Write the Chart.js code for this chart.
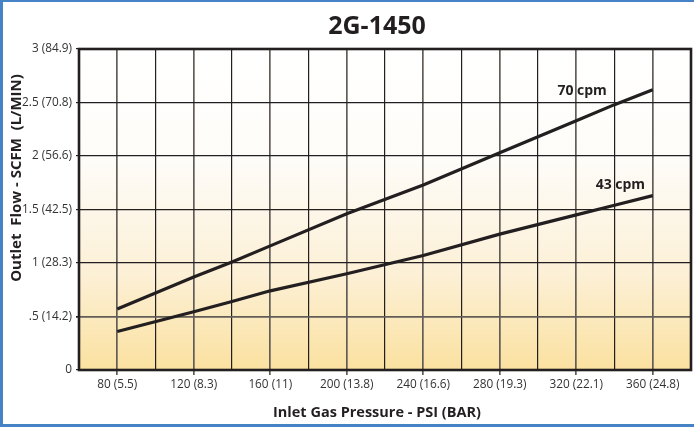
<!DOCTYPE html>
<html lang="en">
<head>
    <meta charset="UTF-8">
    <title>2G-1450</title>
    <style>
        body { margin: 0; background: #fff; }
        canvas { display: block; }
    </style>
</head>
<body>
    <canvas id="myChart" width="694" height="427"></canvas>
    <script src="https://cdn.jsdelivr.net/npm/chart.js"></script>
<script>
    // values
    const pressurePsi = [80, 120, 140, 160, 200, 240, 280, 320, 340, 360]
    const flow70cpm = [0.57, 0.87, 1.01, 1.16, 1.46, 1.73, 2.03, 2.33, 2.48, 2.62]
    const flow43cpm = [0.36, 0.545, 0.64, 0.74, 0.90, 1.07, 1.27, 1.45, 1.54, 1.63]

    const xTickValues = [80, 120, 160, 200, 240, 280, 320, 360]
    const xTickLabels = ['80 (5.5)', '120 (8.3)', '160 (11)', '200 (13.8)', '240 (16.6)', '280 (19.3)', '320 (22.1)', '360 (24.8)']
    const yTickValues = [0, 0.5, 1, 1.5, 2, 2.5, 3]
    const yTickLabels = ['0', '.5 (14.2)', '1 (28.3)', '1.5 (42.5)', '2 (56.6)', '2.5 (70.8)', '3 (84.9)']

    const ink = '#231f20'
    const greyLine = '#625d58'
    const font = "'Open Sans', sans-serif"

    function points(ys) {
        return pressurePsi.map((p, i) => ({ x: p, y: ys[i] }))
    }

    const decor = {
        id: 'decor',
        beforeDraw(chart) {
            const c = chart.ctx, a = chart.chartArea
            c.save()
            // blue frame of the picture
            c.fillStyle = '#4683c6'
            c.fillRect(0, 0, chart.width, 2)
            c.fillRect(0, 0, 3, chart.height)
            c.fillRect(0, chart.height - 3, chart.width, 3)
            // plot background
            const g = c.createLinearGradient(0, a.top, 0, a.bottom)
            g.addColorStop(0, '#ffffff')
            g.addColorStop(0.35, '#fefcf8')
            g.addColorStop(0.7, '#fcf0d6')
            g.addColorStop(1, '#fbe1a0')
            c.fillStyle = g
            c.fillRect(a.left, a.top, a.right - a.left, a.bottom - a.top)
            c.restore()
        },
        afterDatasetsDraw(chart) {
            const c = chart.ctx, a = chart.chartArea
            c.save()
            c.strokeStyle = ink
            c.lineWidth = 2.6
            c.strokeRect(a.left, a.top, a.right - a.left, a.bottom - a.top)
            c.restore()
        },
        afterDraw(chart) {
            const c = chart.ctx
            const xs = chart.scales.x, ys = chart.scales.y
            c.save()
            c.fillStyle = ink
            c.textAlign = 'center'
            c.textBaseline = 'middle'
            c.font = 'bold 25px ' + font
            c.fillText('2G-1450', 377, 27)
            c.font = 'bold 14.5px ' + font
            c.fillText('Inlet Gas Pressure - PSI (BAR)', 377, 413)
            c.save()
            c.translate(17, 178)
            c.rotate(-Math.PI / 2)
            c.font = 'bold 15px ' + font
            c.fillText('Outlet  Flow - SCFM  (L/MIN)', 0, 0)
            c.restore()
            // series labels
            c.textAlign = 'right'
            c.font = 'bold 14px ' + font
            c.fillText('70 cpm', xs.getPixelForValue(336), ys.getPixelForValue(2.61))
            c.fillText('43 cpm', xs.getPixelForValue(356), ys.getPixelForValue(1.73))
            c.restore()
        }
    }

    function creatChart() {
        const ctx = document.getElementById('myChart')
        new Chart(ctx, {
            type: 'line',
            data: {
                datasets: [{
                    label: '70 cpm',
                    data: points(flow70cpm),
                    borderColor: ink,
                    borderWidth: 3.2,
                    pointRadius: 0,
                    tension: 0
                }, {
                    label: '43 cpm',
                    data: points(flow43cpm),
                    borderColor: ink,
                    borderWidth: 3.2,
                    pointRadius: 0,
                    tension: 0
                }]
            },
            options: {
                responsive: false,
                animation: false,
                layout: { padding: { top: 49, right: 2, left: 0, bottom: 0 } },
                plugins: { legend: { display: false }, title: { display: false }, tooltip: { enabled: false } },
                scales: {
                    x: {
                        type: 'linear',
                        min: 60,
                        max: 380,
                        border: { display: false },
                        afterFit(s) { s.height = 57 },
                        grid: {
                            color: c => xTickValues.includes(c.tick.value) ? greyLine : ink,
                            lineWidth: c => xTickValues.includes(c.tick.value) ? 1.7 : 1.2,
                            tickLength: 5,
                            tickColor: c => xTickValues.includes(c.tick.value) ? greyLine : 'rgba(0,0,0,0)'
                        },
                        ticks: {
                            stepSize: 20,
                            autoSkip: false,
                            maxRotation: 0,
                            padding: 3,
                            color: '#333',
                            font: { family: font, size: 11.8 },
                            callback: v => {
                                const i = xTickValues.indexOf(v)
                                return i < 0 ? '' : xTickLabels[i]
                            }
                        }
                    },
                    y: {
                        min: 0,
                        max: 3,
                        border: { display: false },
                        afterFit(s) { s.width = 79 },
                        grid: {
                            color: c => c.tick.value === 0.5 ? greyLine : ink,
                            lineWidth: c => c.tick.value === 0.5 ? 1.7 : 1.2,
                            tickLength: 3,
                            tickColor: ink
                        },
                        ticks: {
                            stepSize: 0.5,
                            autoSkip: false,
                            padding: 4,
                            color: '#333',
                            font: { family: font, size: 11.8 },
                            callback: v => {
                                const i = yTickValues.indexOf(v)
                                return i < 0 ? '' : yTickLabels[i]
                            }
                        }
                    }
                }
            },
            plugins: [decor]
        })
    }
    creatChart()
</script>
</body>
</html>
